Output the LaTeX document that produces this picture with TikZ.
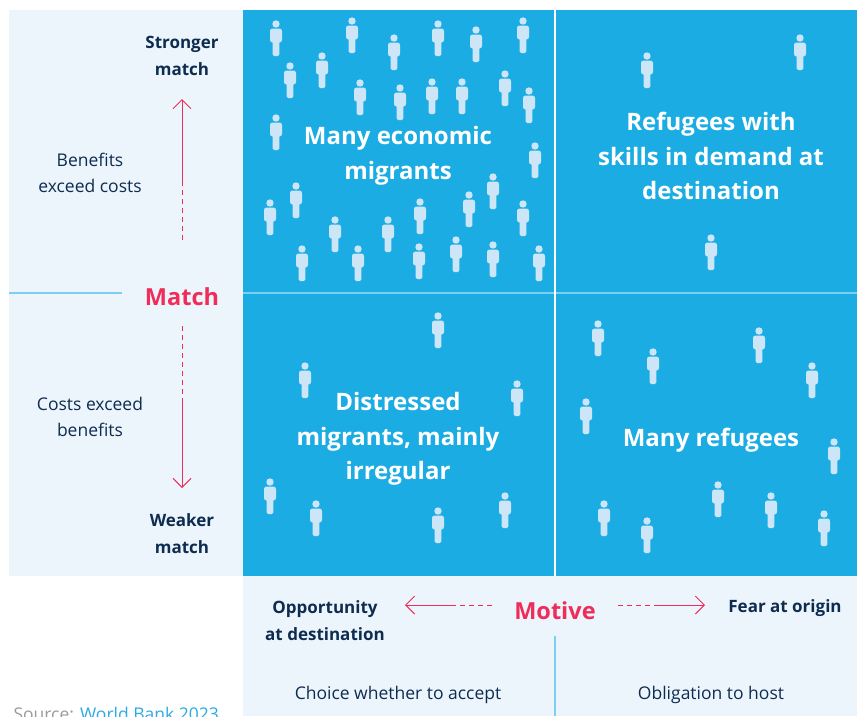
\documentclass[tikz,border=0pt]{standalone}
\usepackage{fontspec}
\setmainfont{Open Sans}
\usetikzlibrary{arrows.meta}
\definecolor{panel}{HTML}{EDF5FC}
\definecolor{quad}{HTML}{1AACE3}
\definecolor{figure}{HTML}{CCE6F7}
\definecolor{navy}{HTML}{0E2C50}
\definecolor{accent}{HTML}{EE2D5A}
\definecolor{rule}{HTML}{7DCFF1}
\definecolor{source}{HTML}{9A9A9A}
\definecolor{link}{HTML}{2AAAE2}
\tikzset{
  person/.pic={
    \fill[figure] (0,-14) circle (3.7);
    \fill[figure, rounded corners=2.5pt] (-6,-9.5) rectangle (6,4.5);
    \fill[figure, rounded corners=1.5pt] (-3.3,3) rectangle (3.3,18);
  },
  quadlabel/.style={text=white, font=\bfseries\fontsize{24}{34.5}\selectfont, align=center},
  axislabel/.style={text=navy, font=\bfseries\fontsize{17}{27}\selectfont, align=center},
  sidenote/.style={text=navy, font=\fontsize{17.5}{26}\selectfont, align=center},
  axisname/.style={text=accent, font=\bfseries\fontsize{23.5}{27}\selectfont},
  arrowline/.style={accent, line width=1pt, -{Straight Barb[length=9pt,width=18pt]}},
  dashline/.style={accent, line width=1pt, dash pattern=on 5pt off 4pt}
}
\begin{document}
\begin{tikzpicture}[x=1pt, y=-1pt]
  \useasboundingbox (0,0) rectangle (857,716);
  % panels
  \fill[panel] (9,10) rectangle (243,576);
  \fill[quad] (243,10) rectangle (857,576);
  \fill[panel] (243,576) rectangle (857,716);
  \draw[rule, line width=2pt] (243,293) -- (857,293);
  \draw[white, line width=1.5pt] (555,10) -- (555,576);
  \draw[rule, line width=1.5pt] (9,293) -- (122,293);
  \draw[rule, line width=1.5pt] (555,636) -- (555,716);
  % people
  \path
    (276,38) pic {person}
    (352,35) pic {person}
    (394,52) pic {person}
    (438,38) pic {person}
    (476,44) pic {person}
    (523,35) pic {person}
    (290,80) pic {person}
    (322,70) pic {person}
    (360,97) pic {person}
    (400,102) pic {person}
    (432,96) pic {person}
    (462,96) pic {person}
    (505,88) pic {person}
    (529,105) pic {person}
    (276,132) pic {person}
    (535,160) pic {person}
    (270,217) pic {person}
    (296,200) pic {person}
    (335,234) pic {person}
    (388,234) pic {person}
    (420,216) pic {person}
    (469,209) pic {person}
    (493,191) pic {person}
    (523,218) pic {person}
    (302,263) pic {person}
    (358,263) pic {person}
    (419,261) pic {person}
    (456,254) pic {person}
    (493,259) pic {person}
    (539,263) pic {person}
    (647,70) pic {person}
    (800,52) pic {person}
    (711,252) pic {person}
    (438,330) pic {person}
    (305,380) pic {person}
    (517,398) pic {person}
    (270,496) pic {person}
    (316,518) pic {person}
    (438,525) pic {person}
    (505,510) pic {person}
    (598,338) pic {person}
    (653,366) pic {person}
    (759,345) pic {person}
    (812,380) pic {person}
    (586,416) pic {person}
    (834,456) pic {person}
    (604,518) pic {person}
    (647,535) pic {person}
    (718,499) pic {person}
    (771,510) pic {person}
    (824,528) pic {person};
  % labels
  \node[quadlabel] (economic) at (398,156) {Many economic\\migrants};
  \node[quadlabel] (skilled) at (711,156) {Refugees with\\skills in demand at\\destination};
  \node[quadlabel] (distressed) at (398,439) {Distressed\\migrants, mainly\\irregular};
  \node[quadlabel] (refugees) at (711,440) {Many refugees};
  \node[axislabel] (stronger) at (182,56) {Stronger\\match};
  \node[sidenote] (benefits) at (90,172.5) {Benefits\\exceed costs};
  \node[axisname] (match) at (182,297) {Match};
  \node[sidenote] (costs) at (90,417) {Costs exceed\\benefits};
  \node[axislabel] (weaker) at (182,534) {Weaker\\match};
  \node[axisname] (motive) at (555,611) {Motive};
  \node[axislabel] (opportunity) at (325,621) {Opportunity\\at destination};
  \node[axislabel] (fear) at (785,608) {Fear at origin};
  \node[sidenote] (choice) at (398,695) {Choice whether to accept};
  \node[sidenote] (obligation) at (711,695) {Obligation to host};
  \node[anchor=base west, font=\fontsize{17.5}{20}\selectfont] (source) at (10,720)
    {\textcolor{source}{Source:} \textcolor{link}{World Bank 2023}};
  % arrows
  \coordinate (upTail) at (182,240);
  \coordinate (upBend) at (182,186);
  \coordinate (upHead) at (182,99);
  \coordinate (downTail) at (182,326);
  \coordinate (downBend) at (182,399);
  \coordinate (downHead) at (182,488);
  \coordinate (leftTail) at (492,605);
  \coordinate (leftBend) at (453,605);
  \coordinate (leftHead) at (405,605);
  \coordinate (rightTail) at (618,605);
  \coordinate (rightBend) at (657,605);
  \coordinate (rightHead) at (705,605);
  \draw[dashline] (upTail) -- (upBend);
  \draw[arrowline] (upBend) -- (upHead);
  \draw[dashline] (downTail) -- (downBend);
  \draw[arrowline] (downBend) -- (downHead);
  \draw[dashline] (leftTail) -- (leftBend);
  \draw[arrowline] (leftBend) -- (leftHead);
  \draw[dashline] (rightTail) -- (rightBend);
  \draw[arrowline] (rightBend) -- (rightHead);
\end{tikzpicture}
\end{document}
